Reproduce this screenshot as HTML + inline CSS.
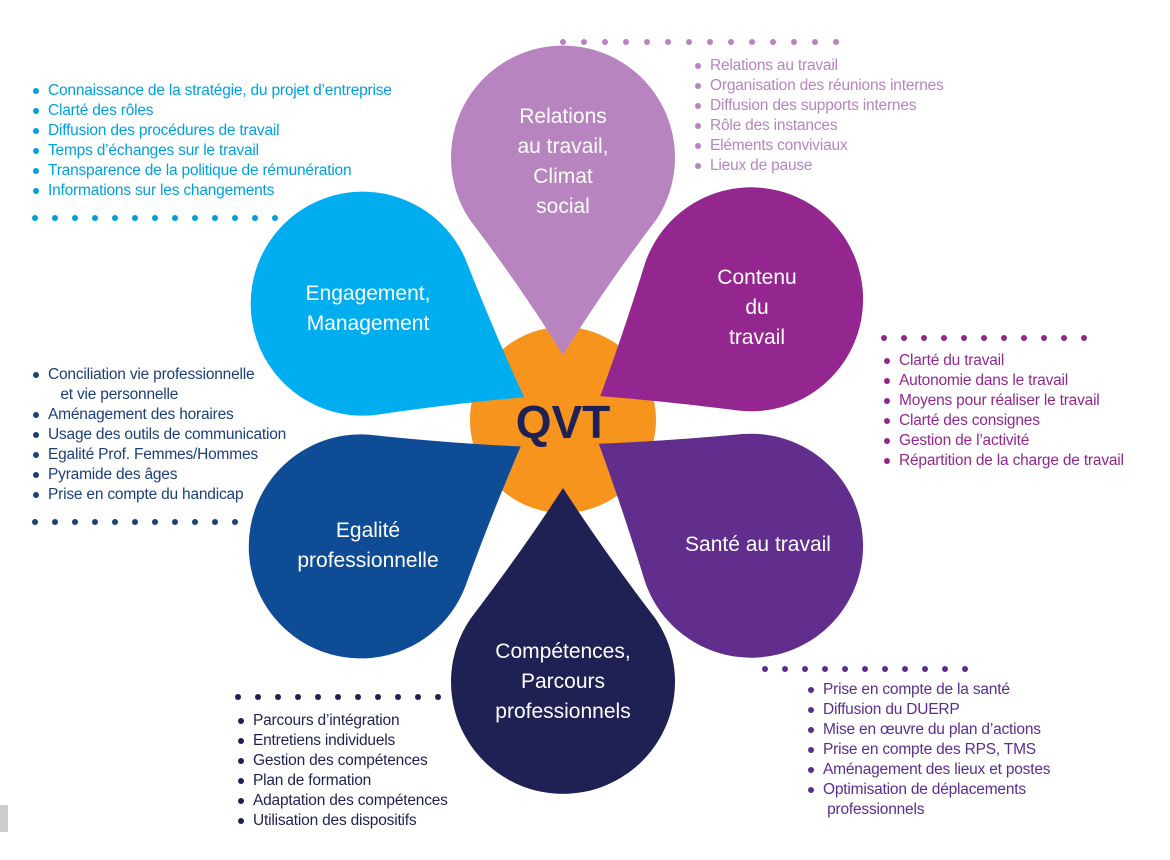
<!DOCTYPE html>
<html><head><meta charset="utf-8"><style>
body{margin:0;width:1170px;height:860px;background:#fff;position:relative;overflow:hidden;font-family:"Liberation Sans",sans-serif}
.l{position:absolute;font-size:15.5px;line-height:20px;white-space:nowrap;letter-spacing:-0.2px}
.l div{position:relative;padding-left:15px}
.l div:before{content:"";position:absolute;left:0;top:7px;width:6px;height:6px;border-radius:50%;background:currentColor}
.l div.n:before{display:none}
.d{position:absolute;height:6px}
.d i{position:absolute;top:0;width:6px;height:6px;border-radius:50%;background:currentColor}
</style></head><body>
<svg width="1170" height="860" style="position:absolute;left:0;top:0">
<circle cx="563" cy="420" r="93" fill="#f7941d"/>
<g fill="#b784c0" transform="translate(563,160) rotate(0)"><path d="M0 195 Q40 130 93 60 A112 112 0 1 0 -93 60 Q-40 130 0 195 Z"/></g>
<g fill="#93278f" transform="translate(750,300) rotate(57.3)"><path d="M0 178 Q40 125 88 68 A112 112 0 1 0 -88 68 Q-40 125 0 178 Z"/></g>
<g fill="#612e8d" transform="translate(750,545) rotate(123.8)"><path d="M0 182 Q40 127 88 68 A112 112 0 1 0 -88 68 Q-40 127 0 182 Z"/></g>
<g fill="#1f2155" transform="translate(563,680) rotate(180)"><path d="M0 192 Q40 130 92 62 A112 112 0 1 0 -92 62 Q-40 130 0 192 Z"/></g>
<g fill="#0e4c95" transform="translate(363,545) rotate(-122)"><path d="M0 186 Q40 128 90 64 A112 112 0 1 0 -90 64 Q-40 128 0 186 Z"/></g>
<g fill="#00aeef" transform="translate(365,305) rotate(-59.9)"><path d="M0 184 Q40 127 90 64 A112 112 0 1 0 -90 64 Q-40 127 0 184 Z"/></g>
<text x="563" y="438" text-anchor="middle" font-family="Liberation Sans" font-weight="bold" font-size="46" fill="#1f2155">QVT</text>
<g font-family="Liberation Sans" font-size="21" fill="#fff" text-anchor="middle">
<text x="563" y="123">Relations</text><text x="563" y="153">au travail,</text><text x="563" y="183">Climat</text><text x="563" y="213">social</text>
<text x="757" y="284">Contenu</text><text x="757" y="314">du</text><text x="757" y="344">travail</text>
<text x="368" y="300">Engagement,</text><text x="368" y="330">Management</text>
<text x="368" y="537">Egalité</text><text x="368" y="567">professionnelle</text>
<text x="758" y="551">Santé au travail</text>
<text x="563" y="658">Compétences,</text><text x="563" y="688">Parcours</text><text x="563" y="718">professionnels</text>
</g>
<rect x="0" y="805" width="8" height="27" fill="#ccc"/>
</svg>

<div class="l" style="left:695px;top:56px;color:#b784c0">
<div>Relations au travail</div><div>Organisation des réunions internes</div><div>Diffusion des supports internes</div><div>Rôle des instances</div><div>Eléments conviviaux</div><div>Lieux de pause</div></div>

<div class="l" style="left:33px;top:81px;color:#00a0e0">
<div>Connaissance de la stratégie, du projet d’entreprise</div><div>Clarté des rôles</div><div>Diffusion des procédures de travail</div><div>Temps d’échanges sur le travail</div><div>Transparence de la politique de rémunération</div><div>Informations sur les changements</div></div>

<div class="l" style="left:884px;top:351px;color:#93278f">
<div>Clarté du travail</div><div>Autonomie dans le travail</div><div>Moyens pour réaliser le travail</div><div>Clarté des consignes</div><div>Gestion de l’activité</div><div>Répartition de la charge de travail</div></div>

<div class="l" style="left:33px;top:365px;color:#1c3f7a">
<div>Conciliation vie professionnelle</div><div class="n">&nbsp;&nbsp;&nbsp;et vie personnelle</div><div>Aménagement des horaires</div><div>Usage des outils de communication</div><div>Egalité Prof. Femmes/Hommes</div><div>Pyramide des âges</div><div>Prise en compte du handicap</div></div>

<div class="l" style="left:808px;top:680px;color:#5b2d8e">
<div>Prise en compte de la santé</div><div>Diffusion du DUERP</div><div>Mise en œuvre du plan d’actions</div><div>Prise en compte des RPS, TMS</div><div>Aménagement des lieux et postes</div><div>Optimisation de déplacements</div><div class="n">&nbsp;professionnels</div></div>

<div class="l" style="left:238px;top:711px;color:#1f2155">
<div>Parcours d’intégration</div><div>Entretiens individuels</div><div>Gestion des compétences</div><div>Plan de formation</div><div>Adaptation des compétences</div><div>Utilisation des dispositifs</div></div>

<div class="d" style="left:560px;top:39px;color:#b784c0"><i style="left:0"></i><i style="left:21px"></i><i style="left:42px"></i><i style="left:63px"></i><i style="left:84px"></i><i style="left:105px"></i><i style="left:126px"></i><i style="left:147px"></i><i style="left:168px"></i><i style="left:189px"></i><i style="left:210px"></i><i style="left:231px"></i><i style="left:252px"></i><i style="left:273px"></i></div>
<div class="d" style="left:32px;top:215px;color:#00a0e0"><i style="left:0"></i><i style="left:20px"></i><i style="left:40px"></i><i style="left:60px"></i><i style="left:80px"></i><i style="left:100px"></i><i style="left:120px"></i><i style="left:140px"></i><i style="left:160px"></i><i style="left:180px"></i><i style="left:200px"></i><i style="left:220px"></i><i style="left:240px"></i></div>
<div class="d" style="left:881px;top:335px;color:#93278f"><i style="left:0"></i><i style="left:20px"></i><i style="left:40px"></i><i style="left:60px"></i><i style="left:80px"></i><i style="left:100px"></i><i style="left:120px"></i><i style="left:140px"></i><i style="left:160px"></i><i style="left:180px"></i><i style="left:200px"></i></div>
<div class="d" style="left:32px;top:519px;color:#1c3f7a"><i style="left:0"></i><i style="left:20px"></i><i style="left:40px"></i><i style="left:60px"></i><i style="left:80px"></i><i style="left:100px"></i><i style="left:120px"></i><i style="left:140px"></i><i style="left:160px"></i><i style="left:180px"></i><i style="left:200px"></i></div>
<div class="d" style="left:762px;top:666px;color:#5b2d8e"><i style="left:0"></i><i style="left:20px"></i><i style="left:40px"></i><i style="left:60px"></i><i style="left:80px"></i><i style="left:100px"></i><i style="left:120px"></i><i style="left:140px"></i><i style="left:160px"></i><i style="left:180px"></i><i style="left:200px"></i></div>
<div class="d" style="left:235px;top:694px;color:#1f2155"><i style="left:0"></i><i style="left:20px"></i><i style="left:40px"></i><i style="left:60px"></i><i style="left:80px"></i><i style="left:100px"></i><i style="left:120px"></i><i style="left:140px"></i><i style="left:160px"></i><i style="left:180px"></i><i style="left:200px"></i></div>
</body></html>
